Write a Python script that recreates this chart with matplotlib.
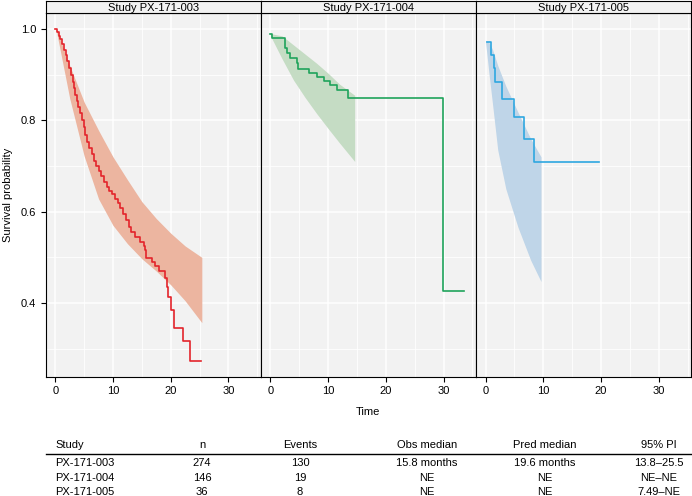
import numpy as np
import matplotlib
matplotlib.use("Agg")
import matplotlib.pyplot as plt
from matplotlib.lines import Line2D

plt.rcParams['font.family'] = ['Liberation Sans', 'DejaVu Sans']

# Kaplan-Meier curves (time, survival)
t_003 = [0.0, 0.3, 0.6, 0.9, 1.2, 1.5, 1.8, 2.1, 2.4, 2.7, 3.0, 3.3, 3.5, 3.8, 4.0,
         4.3, 4.6, 4.9, 5.2, 5.5, 5.9, 6.3, 6.7, 7.1, 7.5, 7.9, 8.4, 8.9, 9.3, 9.8,
         10.3, 10.8, 11.3, 11.8, 12.3, 12.7, 13.2, 13.9, 14.7, 15.3, 15.6, 15.8,
         16.8, 17.3, 17.9, 19.1, 19.3, 19.6, 20.0, 20.6, 22.2, 23.3, 25.2]
s_003 = [1.0, 0.993, 0.985, 0.978, 0.967, 0.955, 0.942, 0.93, 0.915, 0.90, 0.885,
         0.87, 0.855, 0.842, 0.83, 0.815, 0.80, 0.785, 0.768, 0.752, 0.74, 0.727,
         0.712, 0.70, 0.69, 0.678, 0.666, 0.655, 0.645, 0.638, 0.627, 0.618, 0.607,
         0.595, 0.582, 0.567, 0.556, 0.545, 0.534, 0.524, 0.516, 0.499, 0.49, 0.48,
         0.47, 0.455, 0.436, 0.414, 0.385, 0.345, 0.317, 0.273, 0.273]

t_004 = [0.0, 0.3, 2.6, 2.8, 3.3, 4.6, 4.85, 6.6, 8.0, 9.2, 10.3, 11.5, 13.4, 29.9, 33.5]
s_004 = [0.99, 0.98, 0.958, 0.947, 0.936, 0.925, 0.912, 0.904, 0.895, 0.886, 0.877,
         0.866, 0.85, 0.427, 0.427]

t_005 = [0.2, 1.0, 1.4, 1.6, 2.8, 5.0, 6.7, 8.4, 19.6]
s_005 = [0.971, 0.943, 0.914, 0.885, 0.847, 0.807, 0.759, 0.708, 0.708]

# predictive bands
pt_003 = [0.2, 2.5, 5, 7.5, 10, 12.5, 15, 17.5, 20, 22.5, 25.4]
lo_003 = [0.995, 0.848, 0.722, 0.628, 0.57, 0.53, 0.497, 0.47, 0.44, 0.405, 0.357]
hi_003 = [1.0, 0.92, 0.84, 0.778, 0.72, 0.67, 0.622, 0.585, 0.553, 0.525, 0.50]

pt_004 = [0.0, 2, 4, 6, 8, 10, 12, 14.6]
lo_004 = [0.985, 0.935, 0.888, 0.85, 0.815, 0.782, 0.75, 0.71]
hi_004 = [0.99, 0.985, 0.965, 0.945, 0.925, 0.903, 0.879, 0.855]

pt_005 = [0.0, 0.6, 1.2, 2.1, 3.5, 5.6, 7.8, 9.6]
lo_005 = [0.97, 0.9, 0.835, 0.735, 0.65, 0.566, 0.494, 0.447]
hi_005 = [0.975, 0.97, 0.955, 0.92, 0.875, 0.818, 0.76, 0.72]

studies = ["Study PX-171-003", "Study PX-171-004", "Study PX-171-005"]
line_cols = ["#E3242B", "#1FA35B", "#2EA7E0"]
band_cols = ["#ECB5A0", "#C5DCC4", "#BFD5E8"]

# summary table
tbl_header = ["Study", "n", "Events", "Obs median", "Pred median", "95% PI"]
tbl_rows = [
    ["PX-171-003", "274", "130", "15.8 months", "19.6 months", "13.8\u201325.5"],
    ["PX-171-004", "146", "19", "NE", "NE", "NE\u2013NE"],
    ["PX-171-005", "36", "8", "NE", "NE", "7.49\u2013NE"],
]

W, H = 692, 496
fig = plt.figure(figsize=(W / 100, H / 100), dpi=100)

curves = [(t_003, s_003), (t_004, s_004), (t_005, s_005)]
bands = [(pt_003, lo_003, hi_003), (pt_004, lo_004, hi_004), (pt_005, lo_005, hi_005)]

left_px, right_px = 45.5, 691
top_px, bot_px, strip_top = 13.3, 377, 1
pw = (right_px - left_px) / 3
fs = 8

for i in range(3):
    x0 = (left_px + i * pw) / W
    ax = fig.add_axes([x0, 1 - bot_px / H, pw / W, (bot_px - top_px) / H])
    ax.set_facecolor("#F2F2F2")
    bt, blo, bhi = bands[i]
    ax.fill_between(bt, blo, bhi, color=band_cols[i], lw=0, zorder=2)
    ct, cs = curves[i]
    ax.step(ct, cs, where="post", color=line_cols[i], lw=1.2, zorder=3)
    ax.set_xlim(-1.7, 35.6)
    ax.set_ylim(0.238, 1.0344)
    ax.set_xticks([0, 10, 20, 30])
    ax.set_xticks([5, 15, 25, 35], minor=True)
    ax.set_yticks([0.4, 0.6, 0.8, 1.0])
    ax.set_yticks([0.3, 0.5, 0.7, 0.9], minor=True)
    ax.grid(which="major", color="white", lw=1.1, zorder=0)
    ax.grid(which="minor", color="white", lw=0.6, zorder=0)
    ax.set_axisbelow(True)
    ax.tick_params(which="major", length=3.6, width=0.8, color="black",
                   labelsize=fs, pad=3)
    ax.tick_params(which="minor", length=0)
    if i > 0:
        ax.tick_params(axis="y", left=False, labelleft=False)
    else:
        ax.set_yticklabels(["0.4", "0.6", "0.8", "1.0"])
        ax.set_ylabel("Survival probability", fontsize=fs, labelpad=6)
    for sp in ax.spines.values():
        sp.set_color("black")
        sp.set_linewidth(0.8)

    # facet strip
    sax = fig.add_axes([x0, 1 - top_px / H, pw / W, (top_px - strip_top) / H])
    sax.set_facecolor("#F2F2F2")
    sax.set_xticks([])
    sax.set_yticks([])
    for sp in sax.spines.values():
        sp.set_color("black")
        sp.set_linewidth(0.8)
    sax.text(0.5, 0.45, studies[i], ha="center", va="center", fontsize=fs,
             transform=sax.transAxes)

fig.text((left_px + right_px) / 2 / W, 1 - 412 / H, "Time", ha="center",
         va="center", fontsize=fs)

# table below the panels
col_x = [55, 202, 300, 427, 545, 659]
col_ha = ["left", "center", "center", "center", "center", "center"]
for j, h in enumerate(tbl_header):
    fig.text(col_x[j] / W, 1 - 445 / H, h, ha=col_ha[j], va="center", fontsize=fs)
fig.add_artist(Line2D([left_px / W, right_px / W], [1 - 454 / H, 1 - 454 / H],
                      color="black", lw=1.0))
row_y = [463.5, 478, 492]
for r, row in enumerate(tbl_rows):
    for j, v in enumerate(row):
        fig.text(col_x[j] / W, 1 - row_y[r] / H, v, ha=col_ha[j], va="center",
                 fontsize=fs)

fig.savefig("out.png", dpi=100)
